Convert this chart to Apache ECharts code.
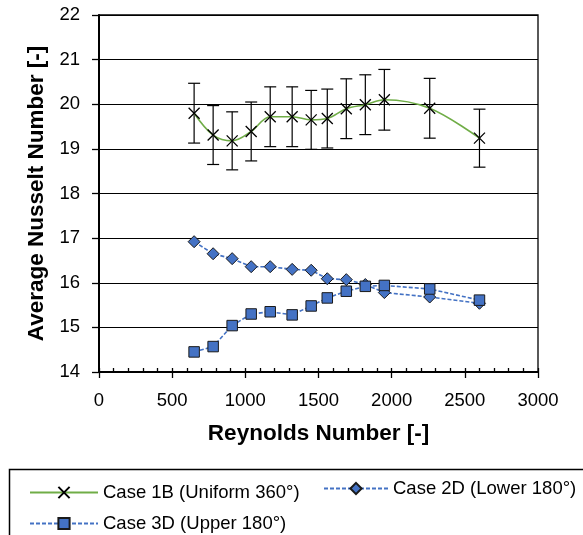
<!DOCTYPE html>
<html>
<head>
<meta charset="utf-8">
<script src="https://cdn.jsdelivr.net/npm/echarts@6/dist/echarts.min.js"></script>
<style>
html,body{margin:0;padding:0;background:#fff;}
#chart{width:583px;height:535px;}
</style>
</head>
<body>
<div id="chart"></div>
<script>
// ---- data ----
const reynolds = [650, 780, 910, 1040, 1170, 1320, 1450, 1560, 1690, 1820, 1950, 2260, 2600];
const case1B = [19.80, 19.31, 19.18, 19.39, 19.72, 19.72, 19.65, 19.68, 19.90, 19.99, 20.10, 19.91, 19.24];
const case1BErr = [0.67, 0.66, 0.65, 0.66, 0.67, 0.67, 0.66, 0.66, 0.67, 0.67, 0.68, 0.67, 0.65];
const case2D = [16.92, 16.65, 16.54, 16.36, 16.36, 16.30, 16.28, 16.09, 16.07, 15.96, 15.78, 15.68, 15.54];
const case3D = [14.45, 14.57, 15.04, 15.30, 15.35, 15.28, 15.48, 15.66, 15.81, 15.92, 15.94, 15.86, 15.61];
const xTicks = [0, 3000, 500];
const yTicks = [14, 22, 1];
const names = ['Case 1B (Uniform 360°)', 'Case 2D (Lower 180°)', 'Case 3D (Upper 180°)'];

const FONT = '"Liberation Sans", Arial, sans-serif';
const pairs = (ys) => reynolds.map((x, i) => [x, ys[i]]);
const errData = reynolds.map((x, i) => [x, case1B[i] - case1BErr[i], case1B[i] + case1BErr[i]]);

const chart = echarts.init(document.getElementById('chart'), null, {renderer: 'canvas'});
const legendText = {fontSize: 18.5, color: '#000', fontFamily: FONT};
chart.setOption({
  animation: false,
  backgroundColor: '#fff',
  grid: {left: 99, right: 45, top: 15, bottom: 163, show: true, borderColor: '#000', borderWidth: 1.3, backgroundColor: 'transparent'},
  xAxis: [{
    type: 'value', min: xTicks[0], max: xTicks[1], interval: xTicks[2],
    name: 'Reynolds Number [-]', nameLocation: 'middle', nameGap: 50,
    nameTextStyle: {fontSize: 22.5, fontWeight: 'bold', color: '#000', fontFamily: FONT},
    axisLine: {show: true, onZero: false, lineStyle: {color: '#000', width: 2}},
    axisTick: {show: true, inside: true, length: 4, lineStyle: {color: '#000', width: 1.3}},
    minorTick: {show: true, splitNumber: 5, length: 4, lineStyle: {color: '#000', width: 1.3}},
    axisLabel: {fontSize: 18.5, color: '#000', fontFamily: FONT, margin: 19, formatter: (v) => String(v)},
    splitLine: {show: false}
  }, {
    type: 'value', min: xTicks[0], max: xTicks[1], interval: xTicks[2], position: 'bottom',
    axisLine: {show: false}, axisLabel: {show: false}, splitLine: {show: false},
    axisTick: {show: true, inside: false, length: 6, lineStyle: {color: '#000', width: 1.3}}
  }],
  yAxis: {
    type: 'value', min: yTicks[0], max: yTicks[1], interval: yTicks[2],
    name: 'Average Nusselt Number [-]', nameLocation: 'middle', nameGap: 50, nameRotate: 90,
    nameTextStyle: {fontSize: 22.5, fontWeight: 'bold', color: '#000', fontFamily: FONT},
    axisLine: {show: true, onZero: false, lineStyle: {color: '#000', width: 2}},
    axisTick: {show: true, inside: false, length: 7, lineStyle: {color: '#000', width: 1.3}},
    axisLabel: {fontSize: 18.5, color: '#000', fontFamily: FONT, margin: 19, formatter: (v) => String(v)},
    splitLine: {show: true, lineStyle: {color: '#000', width: 1.2}}
  },
  legend: [
    {data: [names[0]], left: 24, top: 478, itemWidth: 68, itemHeight: 14, itemGap: 0, textStyle: legendText, selectedMode: false},
    {data: [names[1]], left: 318, top: 474, itemWidth: 64, itemHeight: 14, itemGap: 0, textStyle: legendText, selectedMode: false},
    {data: [names[2]], left: 24, top: 509, itemWidth: 68, itemHeight: 14, itemGap: 0, textStyle: legendText, selectedMode: false}
  ],
  graphic: [{
    type: 'rect', left: 7, top: 467, shape: {width: 620, height: 100},
    style: {fill: 'none', stroke: '#000', lineWidth: 1.5}, silent: true
  }],
  series: [
    {
      type: 'custom', name: 'err', data: errData, z: 3, silent: true,
      renderItem: function (params, api) {
        const x = api.value(0);
        const lo = api.coord([x, api.value(1)]);
        const hi = api.coord([x, api.value(2)]);
        const cw = 6;
        const st = {stroke: '#000', lineWidth: 1.2};
        return {type: 'group', children: [
          {type: 'line', shape: {x1: lo[0], y1: lo[1], x2: hi[0], y2: hi[1]}, style: st},
          {type: 'line', shape: {x1: lo[0] - cw, y1: lo[1], x2: lo[0] + cw, y2: lo[1]}, style: st},
          {type: 'line', shape: {x1: hi[0] - cw, y1: hi[1], x2: hi[0] + cw, y2: hi[1]}, style: st}
        ]};
      }
    },
    {
      type: 'line', name: names[0], data: pairs(case1B), smooth: 0.35, z: 4,
      lineStyle: {color: '#70AD47', width: 1.6},
      symbol: 'path://M0,0L10,10M0,10L10,0', symbolSize: 11,
      itemStyle: {color: 'rgba(0,0,0,0)', borderColor: '#000', borderWidth: 1.3}
    },
    {
      type: 'line', name: names[1], data: pairs(case2D), z: 5,
      lineStyle: {color: '#4472C4', width: 1.6, type: [4, 2]},
      symbol: 'diamond', symbolSize: [12, 12],
      itemStyle: {color: '#4472C4', borderColor: '#1a1a1a', borderWidth: 1}
    },
    {
      type: 'line', name: names[2], data: pairs(case3D), z: 6,
      lineStyle: {color: '#4472C4', width: 1.6, type: [4, 2]},
      symbol: 'rect', symbolSize: 10.5,
      itemStyle: {color: '#4472C4', borderColor: '#1a1a1a', borderWidth: 1}
    }
  ]
});
</script>
</body>
</html>
